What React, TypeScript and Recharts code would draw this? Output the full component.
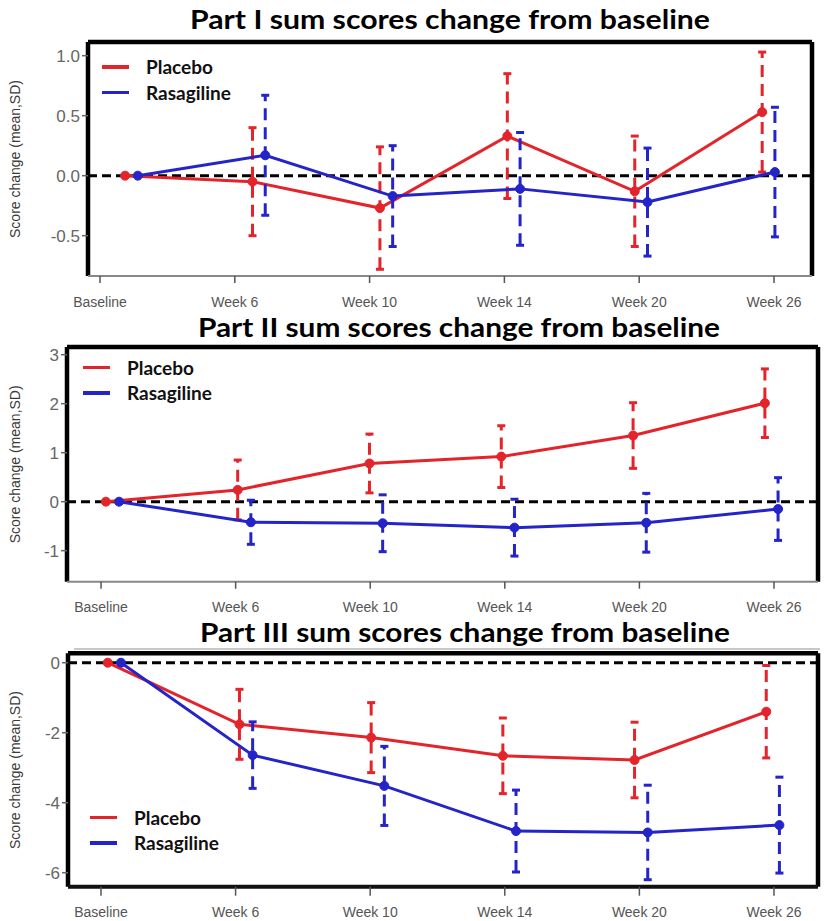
import { ErrorBar, Legend, Line, LineChart, ReferenceLine, XAxis, YAxis } from 'recharts';

const weeks = ['Baseline', 'Week 6', 'Week 10', 'Week 14', 'Week 20', 'Week 26'];

// Part I
const part1PlaceboMean = [0, -0.05, -0.27, 0.33, -0.13, 0.53];
const part1PlaceboSd = [0, 0.45, 0.51, 0.52, 0.46, 0.5];
const part1RasaMean = [0, 0.17, -0.17, -0.11, -0.22, 0.03];
const part1RasaSd = [0, 0.5, 0.42, 0.47, 0.45, 0.54];
const part1Ticks = [-0.5, 0, 0.5, 1];

// Part II
const part2PlaceboMean = [0, 0.24, 0.78, 0.92, 1.35, 2.01];
const part2PlaceboSd = [0, 0.61, 0.6, 0.63, 0.67, 0.7];
const part2RasaMean = [0, -0.42, -0.44, -0.53, -0.43, -0.15];
const part2RasaSd = [0, 0.45, 0.58, 0.58, 0.6, 0.64];
const part2Ticks = [-1, 0, 1, 2, 3];

// Part III
const part3PlaceboMean = [0, -1.76, -2.14, -2.66, -2.78, -1.4];
const part3PlaceboSd = [0, 1.0, 1.0, 1.08, 1.08, 1.32];
const part3RasaMean = [0, -2.64, -3.52, -4.81, -4.85, -4.64];
const part3RasaSd = [0, 0.95, 1.13, 1.17, 1.35, 1.37];
const part3Ticks = [-6, -4, -2, 0];

const RED = '#e3242b';
const BLUE = '#2424c8';
const DODGE = 0.05;
const weekIdx = weeks.map((_, i) => i);
const tickRows = weekIdx.map((i) => ({ x: i }));

const toSeries = (mean: number[], sd: number[], shift: number) =>
    mean.map((y, i) => ({ x: i + shift, y, sd: sd[i] }));

interface PanelProps {
    top: number;
    height: number;
    margin: { top: number; right: number; bottom: number; left: number };
    yAxisWidth: number;
    xAxisHeight: number;
    dataDomain: [number, number];
    tickDomain: [number, number];
    yDomain: [number, number];
    yTicks: number[];
    yDigits: number;
    placebo: { x: number; y: number; sd: number }[];
    rasagiline: { x: number; y: number; sd: number }[];
    legend: { left: number; top: number };
    tickSize: number;
    tickMargin: number;
    boxBottom?: boolean;
}

const LegendBox = ({ payload }: any) => (
    <div>
        {(payload || [])
            .filter((p: any) => p.value === 'Placebo' || p.value === 'Rasagiline')
            .map((p: any) => (
                <div key={p.value} style={{ display: 'flex', alignItems: 'center', height: 25.5 }}>
                    <span style={{ display: 'inline-block', width: 27, height: 3.5, background: p.color }} />
                    <span
                        style={{
                            marginLeft: 17,
                            fontFamily: 'Lato, sans-serif',
                            fontWeight: 700,
                            fontSize: 19,
                            color: '#111',
                        }}
                    >
                        {p.value}
                    </span>
                </div>
            ))}
    </div>
);

const yLabel = (props: any) => {
    const vb = props.viewBox || { y: 0, height: 0 };
    const cx = 15;
    const cy = vb.y + vb.height / 2;
    return (
        <text
            x={cx}
            y={cy}
            transform={`rotate(-90 ${cx} ${cy})`}
            textAnchor="middle"
            dominantBaseline="central"
            fontFamily="'Liberation Sans', Arial, sans-serif"
            fontSize={14}
            fill="#3a3a3a"
        >
            Score change (mean,SD)
        </text>
    );
};

const Panel = (p: PanelProps) => {
    const errProps = { direction: 'y' as const, width: 4, strokeWidth: 3, strokeDasharray: '12 7' };
    return (
        <div style={{ position: 'absolute', left: 0, top: p.top }}>
            <LineChart width={834} height={p.height} margin={p.margin}>
                <XAxis
                    xAxisId="t"
                    dataKey="x"
                    type="number"
                    domain={p.tickDomain}
                    allowDataOverflow
                    ticks={weekIdx}
                    interval={0}
                    height={p.xAxisHeight}
                    tickFormatter={(v: number) => weeks[v]}
                    axisLine={
                        p.boxBottom
                            ? { stroke: '#111', strokeWidth: 4 }
                            : { stroke: '#888', strokeWidth: 2 }
                    }
                    tickLine={{ stroke: '#555', strokeWidth: 1.5 }}
                    tickSize={p.tickSize}
                    tickMargin={p.tickMargin}
                    tick={{ fill: '#555', fontSize: 14, fontFamily: "'Liberation Sans', Arial, sans-serif" }}
                />
                <XAxis
                    xAxisId="d"
                    dataKey="x"
                    type="number"
                    domain={p.dataDomain}
                    allowDataOverflow
                    height={0}
                    hide
                />
                <YAxis
                    type="number"
                    domain={p.yDomain}
                    allowDataOverflow
                    ticks={p.yTicks}
                    interval={0}
                    width={p.yAxisWidth}
                    axisLine={false}
                    tickLine={{ stroke: '#666', strokeWidth: 1.5 }}
                    tickSize={6}
                    tickMargin={2}
                    tickFormatter={(v: number) => v.toFixed(p.yDigits)}
                    tick={{ fill: '#666', fontSize: 17, fontFamily: "'Liberation Sans', Arial, sans-serif" }}
                    label={yLabel}
                />
                <Line
                    xAxisId="t"
                    data={tickRows}
                    dataKey="x"
                    stroke="none"
                    dot={false}
                    activeDot={false}
                    legendType="none"
                    isAnimationActive={false}
                />
                <ReferenceLine xAxisId="d" y={0} stroke="#000" strokeWidth={3} strokeDasharray="9 5" />
                <Line
                    xAxisId="d"
                    data={p.placebo}
                    dataKey="y"
                    name="Placebo"
                    stroke={RED}
                    strokeWidth={3}
                    dot={{ r: 4.5, fill: RED, stroke: RED, strokeWidth: 1 }}
                    activeDot={false}
                    isAnimationActive={false}
                >
                    <ErrorBar dataKey="sd" stroke={RED} {...errProps} />
                </Line>
                <Line
                    xAxisId="d"
                    data={p.rasagiline}
                    dataKey="y"
                    name="Rasagiline"
                    stroke={BLUE}
                    strokeWidth={3}
                    dot={{ r: 4.5, fill: BLUE, stroke: BLUE, strokeWidth: 1 }}
                    activeDot={false}
                    isAnimationActive={false}
                >
                    <ErrorBar dataKey="sd" stroke={BLUE} {...errProps} />
                </Line>
                <ReferenceLine xAxisId="d" x={p.dataDomain[0]} stroke="#000" strokeWidth={4.5} />
                <ReferenceLine xAxisId="d" x={p.dataDomain[1]} stroke="#000" strokeWidth={4.5} />
                <ReferenceLine xAxisId="d" y={p.yDomain[1]} stroke="#000" strokeWidth={4.5} />
                <Legend
                    layout="vertical"
                    align="center"
                    verticalAlign="middle"
                    content={LegendBox}
                    wrapperStyle={{ left: p.legend.left, top: p.legend.top, width: 'auto', height: 'auto' }}
                />
            </LineChart>
        </div>
    );
};

const titles = [
    { text: 'Part I sum scores change from baseline', x: 190, y: 29, w: 520 },
    { text: 'Part II sum scores change from baseline', x: 198, y: 337, w: 522 },
    { text: 'Part III sum scores change from baseline', x: 200, y: 642, w: 530 },
];

export default function App() {
    return (
        <div style={{ position: 'absolute', left: 0, top: 0, width: 834, height: 921, background: '#fff' }}>
            <Panel
                top={0}
                height={312}
                margin={{ top: 42, right: 22, bottom: 2, left: 0 }}
                yAxisWidth={88}
                xAxisHeight={34}
                dataDomain={[-0.341, 5.341]}
                tickDomain={[-0.089, 5.282]}
                yDomain={[-0.836, 1.114]}
                yTicks={part1Ticks}
                yDigits={1}
                placebo={toSeries(part1PlaceboMean, part1PlaceboSd, -DODGE)}
                rasagiline={toSeries(part1RasaMean, part1RasaSd, DODGE)}
                legend={{ left: 102, top: 54 }}
                tickSize={7}
                tickMargin={14}
            />
            <Panel
                top={312}
                height={308}
                margin={{ top: 35, right: 16, bottom: 2.3, left: 0 }}
                yAxisWidth={67}
                xAxisHeight={36}
                dataDomain={[-0.345, 5.353]}
                tickDomain={[-0.253, 5.327]}
                yDomain={[-1.633, 3.157]}
                yTicks={part2Ticks}
                yDigits={0}
                placebo={toSeries(part2PlaceboMean, part2PlaceboSd, -DODGE)}
                rasagiline={toSeries(part2RasaMean, part2RasaSd, DODGE)}
                legend={{ left: 83, top: 42.5 }}
                tickSize={7}
                tickMargin={13}
            />
            <Panel
                top={620}
                height={301}
                margin={{ top: 33.3, right: 16, bottom: 2.3, left: 0 }}
                yAxisWidth={68}
                xAxisHeight={32}
                dataDomain={[-0.352, 5.343]}
                tickDomain={[-0.245, 5.327]}
                yDomain={[-6.4, 0.269]}
                yTicks={part3Ticks}
                yDigits={0}
                placebo={toSeries(part3PlaceboMean, part3PlaceboSd, -DODGE)}
                rasagiline={toSeries(part3RasaMean, part3RasaSd, DODGE)}
                legend={{ left: 90, top: 184.5 }}
                tickSize={9}
                tickMargin={11}
                boxBottom
            />
            <svg
                width={834}
                height={921}
                style={{ position: 'absolute', left: 0, top: 0, pointerEvents: 'none' }}
            >
                {titles.map((t) => (
                    <text
                        key={t.text}
                        x={t.x}
                        y={t.y}
                        textLength={t.w}
                        lengthAdjust="spacingAndGlyphs"
                        fontFamily="Lato, sans-serif"
                        fontWeight={700}
                        fontSize={26}
                        fill="#000"
                    >
                        {t.text}
                    </text>
                ))}
                <line x1={74} y1={649} x2={820} y2={649} stroke="#c8c8c8" strokeWidth={2} />
            </svg>
        </div>
    );
}
